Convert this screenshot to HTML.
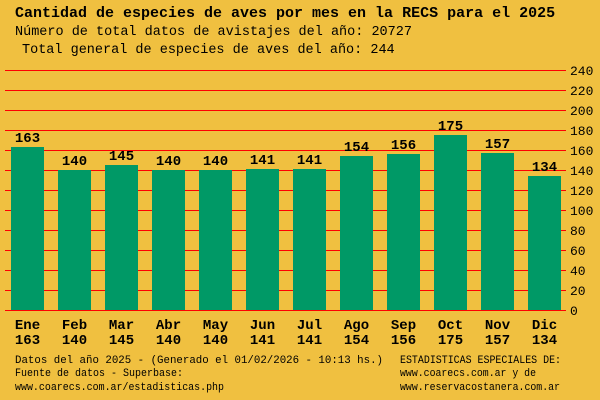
<!DOCTYPE html>
<html><head><meta charset="utf-8"><style>
body{margin:0;background:#f0c040;}
svg{display:block;font-family:"Liberation Mono","DejaVu Sans Mono",monospace;}
</style></head><body>
<svg id="c" width="600" height="400">
<rect width="600" height="400" fill="#f0c040"/>
<text x="15" y="17" font-size="15" font-weight="bold">Cantidad de especies de aves por mes en la RECS para el 2025</text>
<text x="15" y="35" font-size="13.5">Número de total datos de avistajes del año: 20727</text>
<text x="22" y="53" font-size="13.5">Total general de especies de aves del año: 244</text>
<g id="grid"></g><g id="bars"></g>
<g font-size="11">
<text x="15" y="363" textLength="368" lengthAdjust="spacingAndGlyphs">Datos del año 2025 - (Generado el 01/02/2026 - 10:13 hs.)</text>
<text x="15" y="376" textLength="168" lengthAdjust="spacingAndGlyphs">Fuente de datos - Superbase:</text>
<text x="15" y="390" textLength="209" lengthAdjust="spacingAndGlyphs">www.coarecs.com.ar/estadisticas.php</text>
<text x="400" y="363" textLength="161" lengthAdjust="spacingAndGlyphs">ESTADISTICAS ESPECIALES DE:</text>
<text x="400" y="376" textLength="136" lengthAdjust="spacingAndGlyphs">www.coarecs.com.ar y de</text>
<text x="400" y="390" textLength="160" lengthAdjust="spacingAndGlyphs">www.reservacostanera.com.ar</text>
</g>
</svg>
<script>
const months=["Ene","Feb","Mar","Abr","May","Jun","Jul","Ago","Sep","Oct","Nov","Dic"];
const values=[163,140,145,140,140,141,141,154,156,175,157,134];
const ticks=[0,20,40,60,80,100,120,140,160,180,200,220,240];
const NS="http://www.w3.org/2000/svg";
const y=v=>310-v*1;
const x=i=>11+i*47;
function mk(t,a,p){const e=document.createElementNS(NS,t);for(const k in a)e.setAttribute(k,a[k]);p.appendChild(e);return e;}
const g=document.getElementById('grid'),b=document.getElementById('bars');
ticks.forEach(t=>{
 const l=mk('line',{x1:5,x2:566,y1:y(t)+0.5,y2:y(t)+0.5,stroke:'#ff0000','stroke-width':1,'shape-rendering':'crispEdges'},g);
 
 
 const tx=mk('text',{x:570,y:y(t)+5,'font-size':13},g);tx.textContent=t;
 
 
});
values.forEach((v,i)=>{
 const r=mk('rect',{x:x(i),y:y(v),width:33,height:v,fill:'#009966','shape-rendering':'crispEdges'},b);
 
 
 const vl=mk('text',{x:x(i)+16.5,y:y(v)-5,'font-size':14,'font-weight':'bold','text-anchor':'middle'},b);vl.textContent=v;
 
 
 const ml=mk('text',{x:x(i)+16.5,y:329,'font-size':14,'font-weight':'bold','text-anchor':'middle'},b);ml.textContent=months[i];
 
 
 const cl=mk('text',{x:x(i)+16.5,y:344,'font-size':14,'font-weight':'bold','text-anchor':'middle'},b);cl.textContent=v;
 
 
});
</script>
</body></html>
